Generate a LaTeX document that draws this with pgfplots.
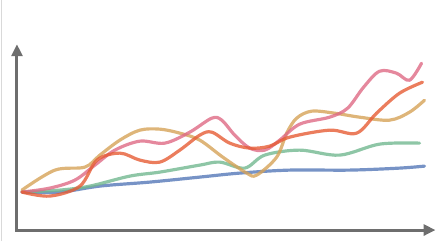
\documentclass[border=0pt]{standalone}
\usepackage{pgfplots}
\pgfplotsset{compat=1.18}
\usetikzlibrary{arrows.meta}
\definecolor{cblue}{HTML}{5578B8}
\definecolor{cgreen}{HTML}{72B890}
\definecolor{ctan}{HTML}{D6A358}
\definecolor{cpink}{HTML}{DF6A85}
\definecolor{cred}{HTML}{E65C35}
\definecolor{caxis}{HTML}{6E6E6E}
\begin{document}
\begin{tikzpicture}
\begin{axis}[
  scale only axis, width=437bp, height=241bp,
  xmin=0, xmax=437, ymin=0, ymax=241,
  hide axis, clip=false,
  every axis plot/.append style={smooth, tension=0.55, line width=3.2pt, opacity=0.8, line cap=round, line join=round, mark=none},
]
\path (axis cs:0,0) rectangle (axis cs:437,241);
\draw[line width=0.6pt, black!15] (axis cs:1,0) -- (axis cs:1,241);
\draw[line width=3pt, caxis, -{Triangle[length=12bp,width=11bp]}] (axis cs:17,11) -- (axis cs:17,197);
\draw[line width=3pt, caxis, -{Triangle[length=12bp,width=11bp]}] (axis cs:15.5,11) -- (axis cs:436,11);
\addplot[cblue] coordinates {(22,49)(60,49)(100,55)(150,59)(200,64)(240,68)(290,71)(350,71)(400,73)(425,75)};
\addplot[cgreen] coordinates {(22,49)(60,51)(90,55)(130,65)(160,69)(200,76)(220,79)(245,73)(265,86)(300,91)(340,86)(380,97)(420,98)};
\addplot[ctan] coordinates {(22,51)(55,71)(85,74)(100,86)(120,101)(140,111)(160,112)(180,108)(200,101)(223,84)(247,68)(257,66)(277,84)(287,108)(297,123)(312,130)(335,128)(360,124)(390,121)(410,129)(425,141)};
\addplot[cpink] coordinates {(22,49)(50,53)(75,61)(95,76)(115,91)(140,100)(165,98)(190,109)(212,123)(222,121)(235,106)(250,93)(265,91)(280,101)(300,117)(330,124)(348,133)(364,154)(380,170)(397,168)(410,161)(422,178)};
\addplot[cred] coordinates {(22,49)(50,45)(80,55)(97,81)(120,88)(140,81)(160,79)(180,91)(200,106)(212,109)(230,98)(250,93)(270,95)(290,104)(330,111)(357,108)(377,128)(400,148)(423,159)};
\end{axis}
\end{tikzpicture}
\end{document}
